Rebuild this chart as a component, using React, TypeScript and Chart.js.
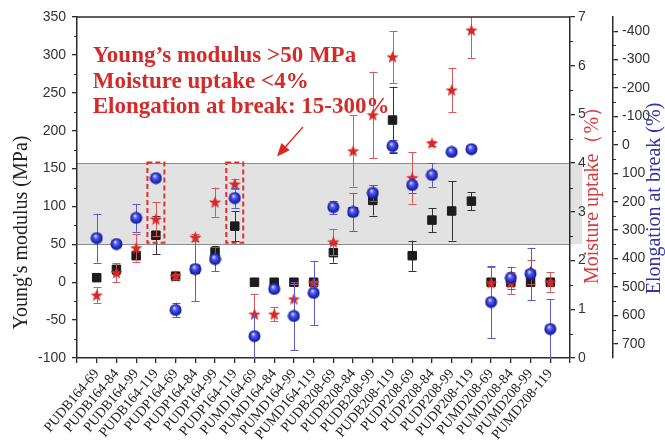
import React, { useEffect, useRef } from 'react';
import { Chart, registerables } from 'chart.js';

Chart.register(...registerables);

const categories = [
  'PUDB164-69', 'PUDB164-84', 'PUDB164-99', 'PUDB164-119',
  'PUDP164-69', 'PUDP164-84', 'PUDP164-99', 'PUDP164-119',
  'PUMD164-69', 'PUMD164-84', 'PUMD164-99', 'PUMD164-119',
  'PUDB208-69', 'PUDB208-84', 'PUDB208-99', 'PUDB208-119',
  'PUDP208-69', 'PUDP208-84', 'PUDP208-99', 'PUDP208-119',
  'PUMD208-69', 'PUMD208-84', 'PUMD208-99', 'PUMD208-119',
];

const youngModulus = [6, 17, 35, 62, 8, 17, 40, 74, 0, 0, 0, 0, 39, 93, 108, 214, 35, 82, 94, 107, 0, 0, 0, 0];
const youngErr = [0, 6, 0, 25, 0, 0, 8, 20, 0, 0, 0, 0, 13, 0, 20, 44, 20, 16, 39, 12, 0, 0, 0, 0];

const moistureUptake = [1.29, 1.75, 2.26, 2.85, 1.68, 2.48, 3.2, 3.57, 0.9, 0.9, 1.21, 1.54, 2.38, 4.25, 4.99, 6.18, 3.7, 4.41, 5.5, 6.73, 1.54, 1.54, 1.77, 1.56];
const moistureErr = [0.16, 0.2, 0.28, 0.35, 0.05, 0.07, 0.3, 0.1, 0.41, 0.15, 0.3, 0.05, 0.27, 0.73, 0.89, 0.53, 0.53, 0.05, 0.46, 0.57, 0.33, 0.22, 0.25, 0.2];

const elongation = [328, 349, 257, 117, 581, 437, 402, 187, 673, 507, 602, 521, 219, 236, 169, 4, 141, 106, 25, 15, 553, 468, 454, 648];
const elongationErr = [86, 10, 49, 0, 26, 114, 42, 35, 80, 10, 120, 113, 23, 67, 28, 20, 28, 42, 0, 0, 128, 39, 92, 105];

const xTicks = [-1, ...categories.map((_, i) => i), categories.length];
const youngTicks = [-100, -50, 0, 50, 100, 150, 200, 250, 300, 350];
const moistureTicks = [0, 1, 2, 3, 4, 5, 6, 7];
const elongationTicks = [-400, -300, -200, -100, 0, 100, 200, 300, 400, 500, 600, 700];

const bandRange = [50, 157];
const highlighted = [3, 7];
const highlightRange = [52, 158];
const annotationLines = ['Young’s modulus >50 MPa', 'Moisture uptake <4%', 'Elongation at break: 15-300%'];
const annotationPos = { x: -0.2, y: [290, 256, 223] };
const arrowFrom = { x: 10.46, y: 205 };
const arrowTo = { x: 9.14, y: 166 };

const AXIS = '#2a2a2a';
const RED = '#d42a2a';
const BLUE = '#3434a8';

function mids(arr: number[]) {
  const out: number[] = [];
  for (let i = 0; i < arr.length - 1; i++) out.push((arr[i] + arr[i + 1]) / 2);
  return out;
}

function makeStar(d: number, color: string) {
  const c = document.createElement('canvas');
  c.width = d; c.height = d;
  const g = c.getContext('2d')!;
  const R = d / 2, r = R * 0.42, cx = d / 2, cy = d / 2 + R * 0.08;
  g.beginPath();
  for (let k = 0; k < 10; k++) {
    const ang = -Math.PI / 2 + (k * Math.PI) / 5;
    const rr = k % 2 === 0 ? R : r;
    g.lineTo(cx + rr * Math.cos(ang), cy + rr * Math.sin(ang));
  }
  g.closePath();
  g.fillStyle = color;
  g.fill();
  return c;
}

function makeSphere(d: number) {
  const c = document.createElement('canvas');
  c.width = d; c.height = d;
  const g = c.getContext('2d')!;
  const R = d / 2 - 0.5;
  const grad = g.createRadialGradient(d * 0.4, d * 0.33, 0.4, d / 2, d / 2, R);
  grad.addColorStop(0, '#d8dcff');
  grad.addColorStop(0.3, '#5560ea');
  grad.addColorStop(0.75, '#2228c0');
  grad.addColorStop(1, '#12148a');
  g.beginPath();
  g.arc(d / 2, d / 2, R, 0, Math.PI * 2);
  g.fillStyle = grad;
  g.fill();
  return c;
}

const errorBarPlugin = {
  id: 'errorBars',
  beforeDatasetDraw(chart: any, args: any) {
    const ds: any = chart.data.datasets[args.index];
    const errs: number[] | undefined = ds.errors;
    if (!errs) return;
    const ys = chart.scales[ds.yAxisID];
    const a = chart.chartArea;
    const ctx = chart.ctx;
    ctx.save();
    ctx.beginPath();
    ctx.rect(a.left, a.top, a.right - a.left, a.bottom - a.top);
    ctx.clip();
    ctx.strokeStyle = ds.errColor;
    ctx.lineWidth = 1;
    args.meta.data.forEach((el: any, i: number) => {
      const e = errs[i];
      if (!e) return;
      const v = ds.data[i].y;
      const p1 = ys.getPixelForValue(v + e);
      const p2 = ys.getPixelForValue(v - e);
      const x = Math.round(el.x) + 0.5;
      ctx.beginPath();
      ctx.moveTo(x, p1); ctx.lineTo(x, p2);
      ctx.moveTo(x - 4, Math.round(p1) + 0.5); ctx.lineTo(x + 4, Math.round(p1) + 0.5);
      ctx.moveTo(x - 4, Math.round(p2) + 0.5); ctx.lineTo(x + 4, Math.round(p2) + 0.5);
      ctx.stroke();
    });
    ctx.restore();
  },
};

const decorPlugin = {
  id: 'decor',
  beforeDraw(chart: any) {
    const { ctx, chartArea: a, scales } = chart;
    const y = scales.y;
    const top = y.getPixelForValue(bandRange[1]);
    const bot = y.getPixelForValue(bandRange[0]);
    ctx.save();
    ctx.fillStyle = '#e2e2e2';
    ctx.fillRect(a.left, top, a.right - a.left + 12, bot - top);
    ctx.strokeStyle = '#8c8c8c';
    ctx.lineWidth = 1;
    ctx.beginPath();
    ctx.moveTo(a.left, Math.round(top) + 0.5); ctx.lineTo(a.right, Math.round(top) + 0.5);
    ctx.moveTo(a.left, Math.round(bot) + 0.5); ctx.lineTo(a.right, Math.round(bot) + 0.5);
    ctx.stroke();
    ctx.restore();
  },
  afterDraw(chart: any) {
    const { ctx, chartArea: a, scales } = chart;
    const xs = scales.x, y = scales.y, y1 = scales.y1, y2 = scales.y2;
    ctx.save();
    // top border
    ctx.strokeStyle = AXIS;
    ctx.lineWidth = 1.5;
    ctx.beginPath();
    ctx.moveTo(a.left, a.top); ctx.lineTo(a.right, a.top);
    ctx.stroke();
    // minor ticks
    ctx.lineWidth = 1.2;
    ctx.beginPath();
    mids(youngTicks).forEach((v) => { const p = Math.round(y.getPixelForValue(v)) + 0.5; ctx.moveTo(y.right, p); ctx.lineTo(y.right - 3, p); });
    mids(moistureTicks).forEach((v) => { const p = Math.round(y1.getPixelForValue(v)) + 0.5; ctx.moveTo(y1.left, p); ctx.lineTo(y1.left + 3, p); });
    mids(elongationTicks).forEach((v) => { const p = Math.round(y2.getPixelForValue(v)) + 0.5; ctx.moveTo(y2.left, p); ctx.lineTo(y2.left + 3, p); });
    ctx.stroke();

    // axis titles
    const cy = (a.top + a.bottom) / 2;
    ctx.font = '20px "Liberation Serif"';
    ctx.textAlign = 'center';
    ctx.textBaseline = 'middle';
    ctx.fillStyle = '#222';
    ctx.save(); ctx.translate(22, cy + 45); ctx.rotate(-Math.PI / 2); ctx.fillText("Young's modulus (MPa)", 0, 0); ctx.restore();
    ctx.fillStyle = '#d83a3a';
    ctx.save(); ctx.translate(y1.left + 23, cy + 3); ctx.rotate(-Math.PI / 2); ctx.fillText('Moisture uptake（%）', 0, 0); ctx.restore();
    ctx.fillStyle = BLUE;
    ctx.save(); ctx.translate(y2.left + 42, cy + 11); ctx.rotate(-Math.PI / 2); ctx.fillText('Elongation at break (%)', 0, 0); ctx.restore();

    // annotation text
    ctx.fillStyle = RED;
    ctx.font = 'bold 23px "Liberation Serif"';
    ctx.textAlign = 'left';
    ctx.textBaseline = 'alphabetic';
    const tx = xs.getPixelForValue(annotationPos.x);
    annotationLines.forEach((t, i) => ctx.fillText(t, tx, y.getPixelForValue(annotationPos.y[i])));

    // arrow
    const x0 = xs.getPixelForValue(arrowFrom.x), yy0 = y.getPixelForValue(arrowFrom.y);
    const x1 = xs.getPixelForValue(arrowTo.x), yy1 = y.getPixelForValue(arrowTo.y);
    const ang = Math.atan2(yy1 - yy0, x1 - x0);
    const hl = 13, hw = 5.5;
    const bx = x1 - hl * Math.cos(ang), by = yy1 - hl * Math.sin(ang);
    ctx.strokeStyle = '#e02424';
    ctx.fillStyle = '#e02424';
    ctx.lineWidth = 1.4;
    ctx.beginPath(); ctx.moveTo(x0, yy0); ctx.lineTo(bx, by); ctx.stroke();
    ctx.beginPath();
    ctx.moveTo(x1, yy1);
    ctx.lineTo(bx + hw * Math.sin(ang), by - hw * Math.cos(ang));
    ctx.lineTo(bx - hw * Math.sin(ang), by + hw * Math.cos(ang));
    ctx.closePath(); ctx.fill();

    // dashed highlight boxes
    const step = xs.getPixelForValue(1) - xs.getPixelForValue(0);
    ctx.setLineDash([5, 3]);
    ctx.lineWidth = 2;
    ctx.strokeStyle = '#e03030';
    highlighted.forEach((h) => {
      const cx = xs.getPixelForValue(h);
      const t = y.getPixelForValue(highlightRange[1]);
      const b = y.getPixelForValue(highlightRange[0]);
      ctx.strokeRect(cx - 0.43 * step, t, 0.86 * step, b - t);
    });
    ctx.restore();
  },
};

const tickFont = { family: '"Liberation Sans", Arial, sans-serif', size: 14 };

export default function App() {
  const ref = useRef<HTMLCanvasElement>(null);
  useEffect(() => {
    const canvas = ref.current!;
    const star = makeStar(13, '#d92626');
    const sphere = makeSphere(13);
    const grid = { drawOnChartArea: false, drawTicks: true, tickLength: 5, color: AXIS, lineWidth: 1.3 };
    const border = { display: true, color: AXIS, width: 1.5 };
    const chart = new Chart(canvas, {
      type: 'scatter',
      data: {
        datasets: [
          {
            label: 'Elongation at break',
            data: elongation.map((v, i) => ({ x: i, y: v })),
            yAxisID: 'y2',
            pointStyle: sphere as any,
            pointRadius: 7,
            errors: elongationErr,
            errColor: '#5a5ac8',
          } as any,
          {
            label: 'Moisture uptake',
            data: moistureUptake.map((v, i) => ({ x: i, y: v })),
            yAxisID: 'y1',
            pointStyle: star as any,
            pointRadius: 7,
            errors: moistureErr,
            errColor: '#d25a5a',
          } as any,
          {
            label: "Young's modulus",
            data: youngModulus.map((v, i) => ({ x: i, y: v })),
            yAxisID: 'y',
            pointStyle: 'rect',
            pointRadius: 6,
            backgroundColor: '#1c1c1c',
            borderColor: '#1c1c1c',
            borderWidth: 1,
            errors: youngErr,
            errColor: '#333333',
          } as any,
        ],
      },
      options: {
        responsive: false,
        animation: false,
        layout: { padding: { top: 17, left: 0, right: 0, bottom: 0 } },
        plugins: { legend: { display: false }, tooltip: { enabled: false } },
        scales: {
          x: {
            type: 'linear',
            min: -1,
            max: categories.length,
            afterBuildTicks: (s: any) => { s.ticks = xTicks.map((v) => ({ value: v })); },
            afterFit: (s: any) => { s.height = 90; },
            ticks: {
              autoSkip: false,
              maxRotation: 50,
              minRotation: 50,
              padding: 3,
              color: '#222',
              font: { family: '"Liberation Serif", "Times New Roman", serif', size: 14 },
              callback: (v: any) => categories[v as number] ?? '',
            },
            grid,
            border,
          },
          y: {
            position: 'left',
            min: -100,
            max: 350,
            afterBuildTicks: (s: any) => { s.ticks = youngTicks.map((v) => ({ value: v })); },
            afterFit: (s: any) => { s.width = 77; },
            ticks: { padding: 6, color: '#333', font: tickFont },
            grid,
            border,
          },
          y1: {
            position: 'right',
            min: 0,
            max: 7,
            afterBuildTicks: (s: any) => { s.ticks = moistureTicks.map((v) => ({ value: v })); },
            afterFit: (s: any) => { s.width = 43; },
            ticks: { padding: 3, color: '#333', font: tickFont },
            grid,
            border,
          },
          y2: {
            position: 'right',
            reverse: true,
            min: -450,
            max: 750,
            afterBuildTicks: (s: any) => { s.ticks = elongationTicks.map((v) => ({ value: v })); },
            afterFit: (s: any) => { s.width = 52; },
            ticks: { padding: 4, color: '#333', font: tickFont },
            grid,
            border,
          },
        },
      } as any,
      plugins: [decorPlugin, errorBarPlugin],
    });
    return () => chart.destroy();
  }, []);
  return (
    <div style={{ position: 'fixed', left: 0, top: 0, width: 665, height: 448, background: '#fff' }}>
      <canvas ref={ref} width={665} height={448} style={{ display: 'block', width: 665, height: 448 }} />
    </div>
  );
}
